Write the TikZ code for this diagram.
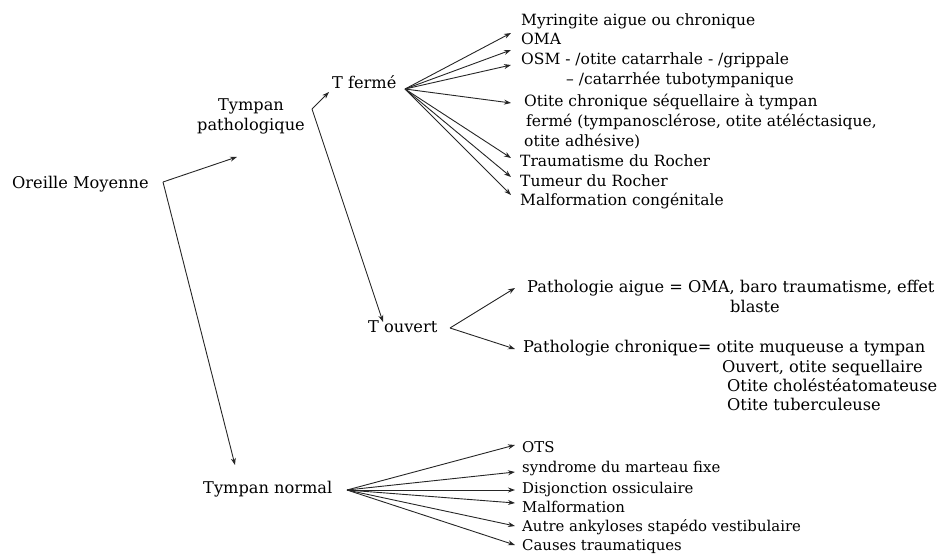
\documentclass[tikz,border=0pt]{standalone}
\usepackage{fontspec}
\setmainfont{DejaVu Serif}
\usetikzlibrary{arrows.meta}
\begin{document}
\begin{tikzpicture}[x=1pt,y=-1pt,
  lbl/.style={anchor=west,inner sep=0pt,text height=12pt,text depth=3.5pt,font=\fontsize{16.2}{20}\selectfont},
  lblf/.style={lbl,font=\fontsize{15.5}{20}\selectfont},
  lblo/.style={lbl,font=\fontsize{16.2}{20}\selectfont},
  lbln/.style={lbl,font=\fontsize{14.9}{20}\selectfont},
  arr/.style={line width=0.9pt,draw=black!85,-{Stealth[length=7pt,width=5pt]}}]
\useasboundingbox (0,0) rectangle (943,554);
% level 0 and 1
\node[lbl] (om) at (12,184) {Oreille Moyenne};
\node[anchor=center,inner sep=0pt,align=center,font=\fontsize{16.2}{20}\selectfont] (tp) at (251,116) {Tympan\\pathologique};
\node[lbl] (tn) at (203,489) {Tympan normal};
\coordinate (omo) at (163,182);
\draw[arr] (omo) -- ([xshift=-14pt,yshift=-23pt]tp.south);
\draw[arr] (omo) -- ([xshift=32pt,yshift=24pt]tn.west);
% T fermé / T ouvert
\node[lbl] (tf) at (332,84) {T fermé};
\node[lbl] (to) at (368,328) {T ouvert};
\coordinate (tpo) at (312,109);
\draw[arr] (tpo) -- ([xshift=-3pt,yshift=-8pt]tf.west);
\draw[arr] (tpo) -- ([xshift=15pt,yshift=6pt]to.west);
% T fermé children
\node[lblf] (f1) at (521,21) {Myringite aigue ou chronique};
\node[lblf] (f2) at (521,40) {OMA};
\node[lblf] (f3) at (521,60) {OSM - /otite catarrhale - /grippale};
\node[lblf] (f3b) at (566,80) {– /catarrhée tubotympanique};
\node[lblf] (f4) at (524,102) {Otite chronique séquellaire à tympan};
\node[lblf] (f4b) at (526,122) {fermé (tympanosclérose, otite atéléctasique,};
\node[lblf] (f4c) at (524,142) {otite adhésive)};
\node[lblf] (f5) at (520,162) {Traumatisme du Rocher};
\node[lblf] (f6) at (520,182) {Tumeur du Rocher};
\node[lblf] (f7) at (520,201) {Malformation congénitale};
\coordinate (tfo) at (405,89);
\draw[arr] (tfo) -- ([xshift=-10pt,yshift=-12pt]f1.west);
\draw[arr] (tfo) -- ([xshift=-10pt,yshift=-10pt]f2.west);
\draw[arr] (tfo) -- ([xshift=-10pt,yshift=-5pt]f3.west);
\draw[arr] (tfo) -- ([xshift=-13pt,yshift=-1pt]f4.west);
\draw[arr] (tfo) -- ([xshift=-9pt,yshift=4pt]f5.west);
\draw[arr] (tfo) -- ([xshift=-9pt,yshift=5pt]f6.west);
\draw[arr] (tfo) -- ([xshift=-9pt,yshift=6pt]f7.west);
% T ouvert children
\node[lblo] (o1) at (527,288) {Pathologie aigue = OMA, baro traumatisme, effet};
\node[lblo] (o1b) at (730,308) {blaste};
\node[lblo] (o2) at (523,348) {Pathologie chronique= otite muqueuse a tympan};
\node[lblo] (o2b) at (722,368) {Ouvert, otite sequellaire};
\node[lblo] (o2c) at (727,387) {Otite choléstéatomateuse};
\node[lblo] (o2d) at (727,406) {Otite tuberculeuse};
\coordinate (too) at (450,328);
\draw[arr] (too) -- ([xshift=-12pt]o1.west);
\draw[arr] (too) -- ([xshift=-8pt,yshift=-1pt]o2.west);
% Tympan normal children
\node[lbln] (n1) at (522,448) {OTS};
\node[lbln] (n2) at (522,468) {syndrome du marteau fixe};
\node[lbln] (n3) at (522,489) {Disjonction ossiculaire};
\node[lbln] (n4) at (522,508) {Malformation};
\node[lbln] (n5) at (522,527) {Autre ankyloses stapédo vestibulaire};
\node[lbln] (n6) at (522,546) {Causes traumatiques};
\coordinate (tno) at (347,490);
\draw[arr] (tno) -- ([xshift=-7pt,yshift=3pt]n1.west);
\draw[arr] (tno) -- ([xshift=-7pt,yshift=-4pt]n2.west);
\draw[arr] (tno) -- ([xshift=-7pt,yshift=-1pt]n3.west);
\draw[arr] (tno) -- ([xshift=-7pt,yshift=5pt]n4.west);
\draw[arr] (tno) -- ([xshift=-7pt,yshift=1pt]n5.west);
\draw[arr] (tno) -- ([xshift=-7pt,yshift=1pt]n6.west);
\end{tikzpicture}
\end{document}
